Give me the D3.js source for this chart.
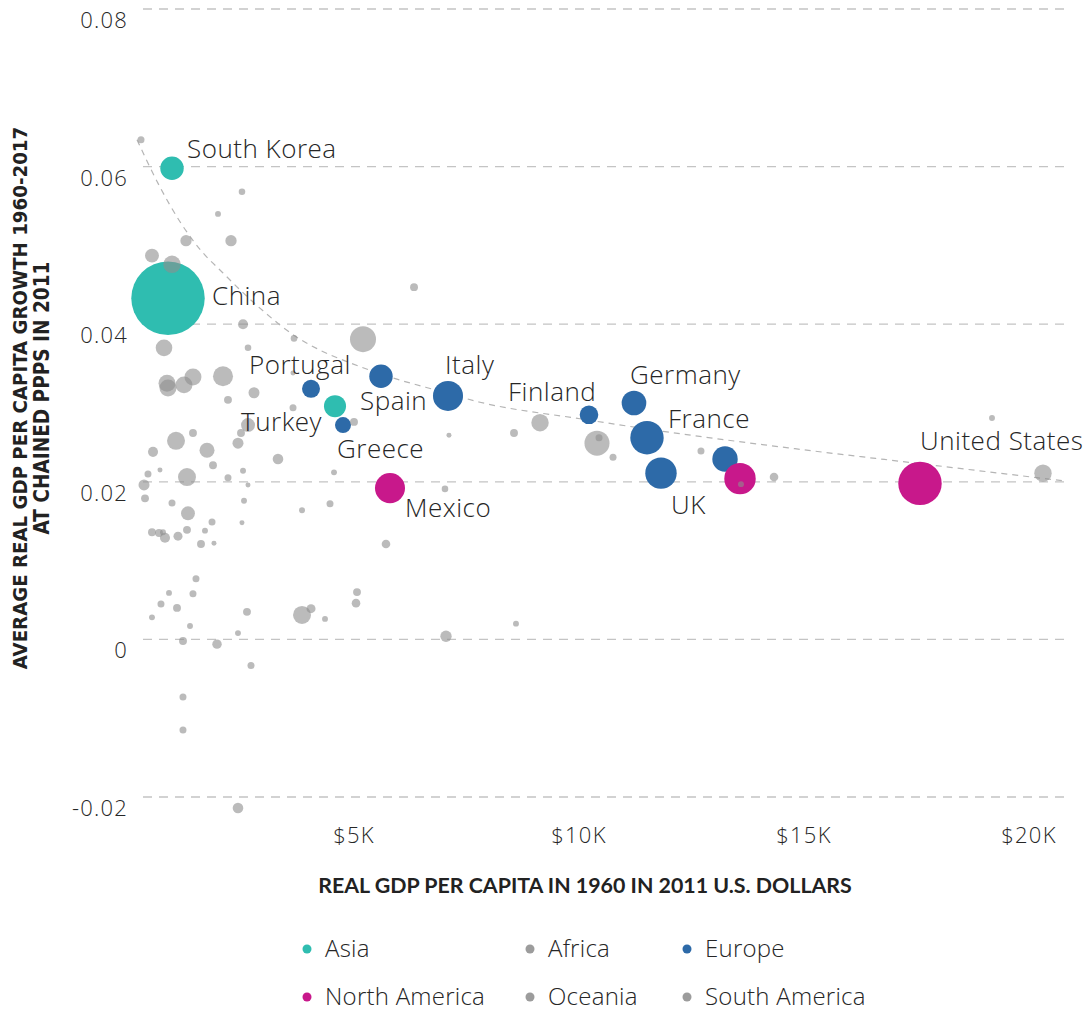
<!DOCTYPE html>
<html><head><meta charset="utf-8">
<script src="https://cdn.jsdelivr.net/npm/d3@7"></script>
<style>
html,body{margin:0;padding:0;background:#fff;}
svg{display:block;font-family:"Open Sans",Lato,sans-serif;font-weight:300;}
</style></head>
<body>
<svg id="chart" width="1086" height="1012"></svg>
<script>
// ---------------- DATA ----------------
const yTickValues = [-0.02, 0, 0.02, 0.04, 0.06, 0.08];
const yTickLabels = ["-0.02", "0", "0.02", "0.04", "0.06", "0.08"];
const xTickValues = [5000, 10000, 15000, 20000];
const xTickLabels = ["$5K", "$10K", "$15K", "$20K"];

const regions = ["Asia", "Africa", "Europe", "North America", "Oceania", "South America"];
const regionColors = ["#2fbdb0", "#9c9c9c", "#2d6aa8", "#c8188b", "#9c9c9c", "#9c9c9c"];

// labelled / coloured countries
const countryNames  = ["South Korea","China","Turkey","Portugal","Spain","Greece","Italy","Finland","Germany","France","UK","Netherlands","Mexico","Canada","United States"];
const countryRegion = ["Asia","Asia","Asia","Europe","Europe","Europe","Europe","Europe","Europe","Europe","Europe","Europe","North America","North America","North America"];
const countryGdp    = [978, 889, 4600, 4067, 5622, 4778, 7111, 10244, 11244, 11533, 11844, 13267, 5822, 13600, 17600];
const countryGrowth = [0.0598, 0.0433, 0.0296, 0.0318, 0.0334, 0.0272, 0.0309, 0.0285, 0.0300, 0.0256, 0.0211, 0.0229, 0.0192, 0.0204, 0.0198];
const countryPop    = [141, 1387, 125, 83, 141, 66, 232, 89, 156, 287, 254, 166, 232, 254, 485];
const countryShowLabel = [true,true,true,true,true,true,true,true,true,true,true,false,true,false,true];

// other countries (Africa / Oceania / South America / rest) : [gdp1960, growth, population]
const otherPoints = [
 [289,0.0634,12.6],[2533,0.0568,11],[2000,0.0540,9],[1289,0.0506,33],[2289,0.0506,33],
 [533,0.0487,50],[978,0.0476,78],[2556,0.0400,26],[3689,0.0382,11],[800,0.0370,71],
 [2667,0.0370,11],[6356,0.0447,16],[5222,0.0381,174],[867,0.0325,74],[889,0.0319,74],
 [1244,0.0323,74],[1444,0.0333,74],[2111,0.0334,103],[2222,0.0304,16],[2800,0.0313,31],
 [3667,0.0338,6.4],[3667,0.0294,12.6],[2667,0.0272,50],[2511,0.0262,16],[1444,0.0262,16],
 [1067,0.0252,83],[2444,0.0249,31],[556,0.0238,26],[1756,0.0240,58],[3333,0.0229,29],
 [1889,0.0221,16],[444,0.0210,12.6],[711,0.0215,6.4],[2556,0.0214,9],[1311,0.0206,83],
 [2222,0.0205,12.6],[356,0.0196,31],[2667,0.0196,6.4],[378,0.0179,16],[2578,0.0176,9],
 [978,0.0173,12.6],[1333,0.0160,50],[1867,0.0149,12.6],[2533,0.0148,6.4],[533,0.0136,16],
 [689,0.0135,16],[778,0.0136,9],[822,0.0129,26],[1111,0.0131,21],[1311,0.0139,16],
 [1711,0.0138,9],[1622,0.0121,16],[1911,0.0122,6.4],[1511,0.0077,12.6],[4578,0.0212,9],
 [5022,0.0276,16],[3867,0.0164,9],[4489,0.0172,12.6],[5733,0.0121,19],[1444,0.0058,12.6],
 [5089,0.0060,16],[5067,0.0046,19],[2644,0.0035,16],[3867,0.0031,83],[4067,0.0039,21],
 [4378,0.0026,9],[2444,0.0008,9],[1378,0.0017,9],[1978,-0.0006,23],[2733,-0.0033,12.6],
 [911,0.0059,9],[733,0.0045,12.6],[1089,0.0040,16],[533,0.0028,9],[1222,-0.0002,16],
 [1222,-0.0073,12.6],[1222,-0.0115,12.6],[2444,-0.0214,29],[9156,0.0275,78],[8578,0.0262,16],
 [10422,0.0249,161],[10467,0.0256,12.6],[10778,0.0231,12.6],[12733,0.0239,12.6],[14356,0.0206,19],
 [7133,0.0259,6.4],[7044,0.0191,11],[8622,0.0020,9],[7067,0.0004,33],[19200,0.0281,9],
 [20333,0.0211,78],[13622,0.0197,9]
];

// fitted trend line
const trendGdp    = [200, 711, 1156, 1600, 2111, 2556, 3000, 3711, 4200, 4933, 5822, 6933, 7822, 10044, 12267, 14822, 17600, 20822];
const trendGrowth = [0.0634, 0.0574, 0.0530, 0.0495, 0.0465, 0.0440, 0.0417, 0.0385, 0.0369, 0.0351, 0.0333, 0.0315, 0.0301, 0.0280, 0.0261, 0.0242, 0.0223, 0.0201];

// ---------------- LAYOUT ----------------
const labelOffsets = {
  "South Korea":[15,-10,"start"], "China":[44,7,"start"], "Turkey":[-13,25,"end"],
  "Portugal":[-62,-15,"start"], "Spain":[-21,34,"start"], "Greece":[-6,33,"start"],
  "Italy":[-3,-22,"start"], "Finland":[-81,-14,"start"], "Germany":[-4,-19,"start"],
  "France":[21,-10,"start"], "UK":[10,41,"start"], "Mexico":[15,29,"start"],
  "United States":[0,-33,"start"]
};

const svg = d3.select("#chart");
const x = d3.scaleLinear().domain([0, 20000]).range([128, 1028]);
const y = d3.scaleLinear().domain([-0.02, 0.08]).range([797, 9]);
const r = d3.scaleSqrt().domain([0, 1400]).range([0, 36.9]);
const color = d3.scaleOrdinal().domain(regions).range(regionColors);
const textColor = "#262626";

// gridlines
svg.append("g").selectAll("line").data(yTickValues).join("line")
  .attr("x1", 143).attr("x2", 1070)
  .attr("y1", d => y(d)).attr("y2", d => y(d))
  .attr("stroke", "#c4c4c4").attr("stroke-width", 1.3).attr("stroke-dasharray", "9,7");

// y tick labels
svg.append("g").selectAll("text").data(yTickValues).join("text")
  .attr("x", 128).attr("y", d => y(d) + 19)
  .attr("text-anchor", "end").attr("font-size", 22).attr("letter-spacing", 1.2).attr("fill", textColor)
  .text((d, i) => yTickLabels[i]);

// x tick labels
svg.append("g").selectAll("text").data(xTickValues).join("text")
  .attr("x", d => x(d) + 1).attr("y", 843)
  .attr("text-anchor", "middle").attr("font-size", 22).attr("letter-spacing", 1.2).attr("fill", textColor)
  .text((d, i) => xTickLabels[i]);

// trend line
const trendData = trendGdp.map((g, i) => [g, trendGrowth[i]]);
svg.append("path").datum(trendData)
  .attr("fill", "none").attr("stroke", "#b5b5b5").attr("stroke-width", 1.2)
  .attr("stroke-dasharray", "6,5")
  .attr("d", d3.line().x(d => x(d[0])).y(d => y(d[1])).curve(d3.curveMonotoneX));

// coloured countries
const countries = countryNames.map((n, i) => ({
  name: n, region: countryRegion[i], gdp: countryGdp[i], growth: countryGrowth[i],
  pop: countryPop[i], label: countryShowLabel[i]
}));
svg.append("g").selectAll("circle").data(countries).join("circle")
  .attr("cx", d => x(d.gdp)).attr("cy", d => y(d.growth)).attr("r", d => r(d.pop))
  .attr("fill", d => color(d.region));

// grey countries (semi transparent, on top)
svg.append("g").selectAll("circle").data(otherPoints).join("circle")
  .attr("cx", d => x(d[0])).attr("cy", d => y(d[1])).attr("r", d => r(d[2]))
  .attr("fill", "#8e8e8e").attr("fill-opacity", 0.6);

// country labels
svg.append("g").selectAll("text").data(countries.filter(d => d.label)).join("text")
  .attr("x", d => x(d.gdp) + labelOffsets[d.name][0])
  .attr("y", d => y(d.growth) + labelOffsets[d.name][1])
  .attr("text-anchor", d => labelOffsets[d.name][2])
  .attr("font-size", 26).attr("letter-spacing", 0.5).attr("fill", textColor)
  .text(d => d.name);

// fit text to a target width
function fit(sel, target) {
  const fs = +sel.attr("font-size");
  const w = sel.node().getComputedTextLength();
  sel.attr("font-size", fs * target / w);
}

// x axis title
const xt = svg.append("text").attr("x", 585).attr("y", 893)
  .attr("text-anchor", "middle").attr("font-size", 17).attr("font-weight", 700)
  .attr("font-family", "Lato,sans-serif")
  .attr("fill", "#222").text("REAL GDP PER CAPITA IN 1960 IN 2011 U.S. DOLLARS");
fit(xt, 534);

// y axis title
const yt = svg.append("g").attr("transform", "translate(0,398) rotate(-90)");
const yt1 = yt.append("text").attr("x", 0).attr("y", 27).attr("text-anchor", "middle")
  .attr("font-size", 17).attr("font-weight", 700).attr("fill", "#222")
  .attr("font-family", "'Liberation Sans Narrow','DejaVu Sans Condensed',Lato,sans-serif")
  .text("AVERAGE REAL GDP PER CAPITA GROWTH 1960-2017");
fit(yt1, 543);
const yt2 = yt.append("text").attr("x", 0).attr("y", 49).attr("text-anchor", "middle")
  .attr("font-size", 17).attr("font-weight", 700).attr("fill", "#222")
  .attr("font-family", "'Liberation Sans Narrow','DejaVu Sans Condensed',Lato,sans-serif")
  .text("AT CHAINED PPPS IN 2011");
fit(yt2, 273);

// legend
const legendX = [307, 530, 687];
const legendY = [949, 997];
const leg = svg.append("g").selectAll("g").data(regions).join("g")
  .attr("transform", (d, i) => `translate(${legendX[i % 3]},${legendY[Math.floor(i / 3)]})`);
leg.append("circle").attr("r", 4.5).attr("fill", d => color(d));
leg.append("text").attr("x", 18).attr("y", 8).attr("font-size", 24).attr("letter-spacing", 0.25).attr("fill", textColor)
  .text(d => d);
</script>
</body></html>
